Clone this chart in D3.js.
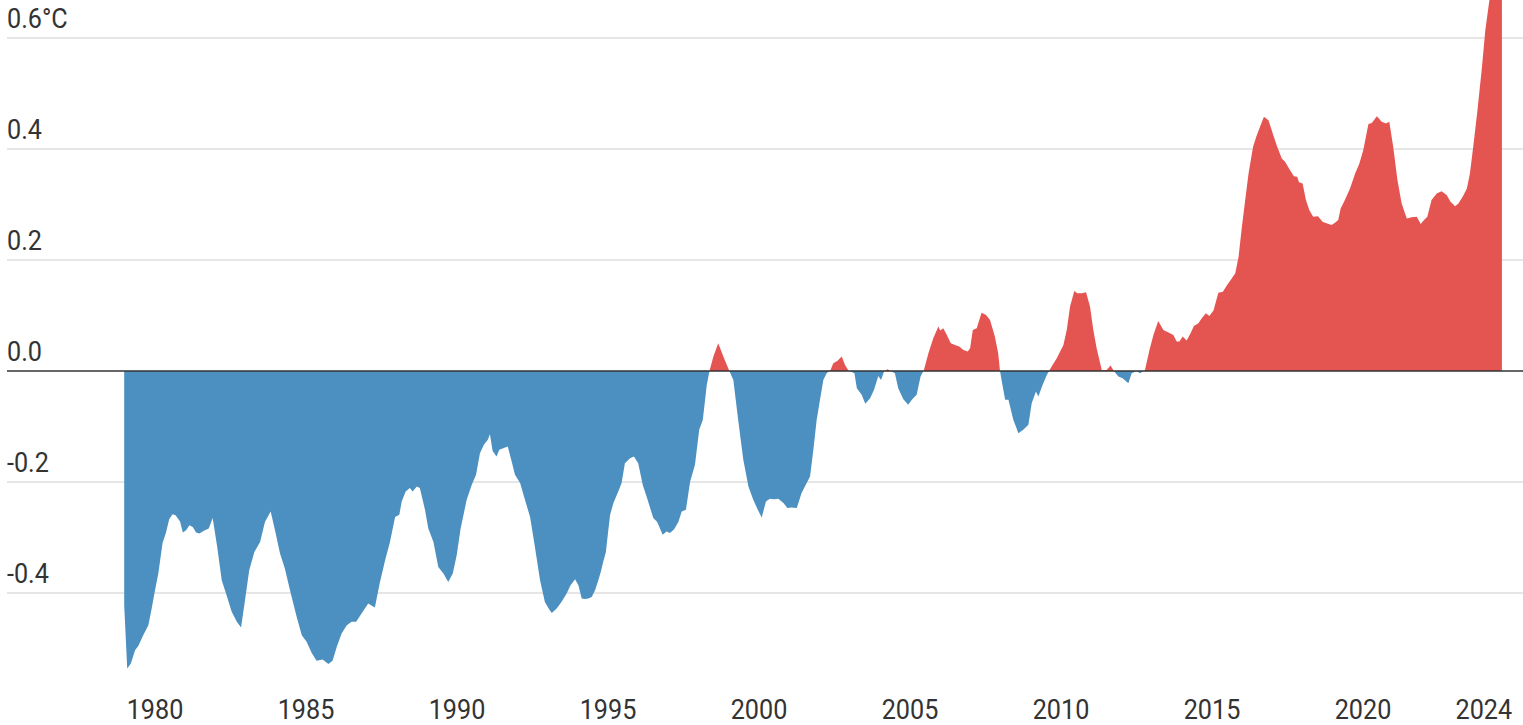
<!DOCTYPE html>
<html>
<head>
<meta charset="utf-8">
<script src="https://cdn.jsdelivr.net/npm/d3@7"></script>
<style>
  html, body { margin: 0; padding: 0; background: #fff; }
  svg { display: block; }
  text { font-family: Roboto, "Noto Sans", sans-serif; fill: #333; }
</style>
</head>
<body>
<svg id="chart" width="1523" height="725"></svg>
<script>
// Decimal-year positions of the readings (12-month mean anomaly, °C)
const years = [
1978.98,1979.08,1979.20,1979.34,1979.45,1979.61,1979.78,1979.89,
1980.00,1980.11,1980.25,1980.36,1980.47,1980.58,1980.68,1980.83,1980.92,
1981.03,1981.14,1981.25,1981.36,1981.47,1981.62,1981.78,1981.91,
1982.06,1982.21,1982.37,1982.54,1982.71,1982.85,1982.98,
1983.12,1983.29,1983.48,1983.64,1983.83,1983.97,
1984.14,1984.30,1984.47,1984.69,1984.86,
1985.02,1985.19,1985.35,1985.55,1985.74,1985.88,
1986.02,1986.18,1986.35,1986.51,1986.66,1986.84,
1987.06,1987.28,1987.45,1987.62,1987.78,1987.95,
1988.09,1988.17,1988.30,1988.44,1988.53,1988.67,1988.77,1988.94,
1989.05,1989.22,1989.38,1989.55,1989.71,1989.86,1989.99,
1990.12,1990.32,1990.49,1990.63,1990.76,1990.89,
1991.02,1991.09,1991.18,1991.31,1991.40,1991.53,1991.68,1991.81,1991.92,
1992.09,1992.25,1992.42,1992.58,1992.75,1992.91,
1993.06,1993.14,1993.30,1993.46,1993.63,1993.76,1993.91,
1994.02,1994.13,1994.24,1994.35,1994.46,1994.57,1994.68,1994.76,1994.84,1994.93,
1995.01,1995.07,1995.18,1995.34,1995.45,1995.56,1995.73,1995.86,
1996.00,1996.15,1996.30,1996.50,1996.63,1996.81,1996.94,
1997.05,1997.19,1997.33,1997.44,1997.58,1997.72,1997.88,
1998.02,1998.14,1998.27,1998.36,1998.49,1998.65,1998.82,1998.98,
1999.15,1999.31,1999.48,1999.65,1999.81,1999.96,
2000.09,2000.23,2000.36,2000.50,2000.64,2000.81,2000.94,
2001.08,2001.25,2001.41,2001.52,2001.69,2001.80,2001.91,
2002.02,2002.13,2002.24,2002.37,2002.46,2002.59,2002.74,2002.85,2002.96,
2003.16,2003.24,2003.40,2003.52,2003.68,2003.81,2003.95,
2004.04,2004.14,2004.25,2004.36,2004.50,2004.61,2004.78,2004.94,
2005.06,2005.22,2005.35,2005.46,2005.61,2005.77,2005.94,
2006.00,2006.10,2006.22,2006.35,2006.49,2006.63,2006.77,2006.91,2006.99,
2007.08,2007.21,2007.37,2007.52,2007.65,2007.81,2007.92,2007.98,
2008.09,2008.15,2008.26,2008.42,2008.59,2008.75,2008.92,
2009.03,2009.17,2009.25,2009.39,2009.53,2009.69,2009.86,
2010.08,2010.19,2010.30,2010.44,2010.54,2010.69,2010.83,2010.96,
2011.07,2011.18,2011.35,2011.51,2011.64,2011.75,2011.90,
2012.04,2012.23,2012.34,2012.50,2012.62,2012.78,2012.93,
2013.06,2013.22,2013.39,2013.61,2013.72,2013.83,2013.92,
2014.03,2014.16,2014.29,2014.40,2014.55,2014.66,2014.80,2014.91,
2015.05,2015.21,2015.36,2015.50,2015.63,2015.77,2015.88,2015.99,
2016.10,2016.21,2016.36,2016.46,2016.59,2016.72,2016.87,
2017.03,2017.16,2017.31,2017.42,2017.58,2017.71,2017.82,2017.88,
2018.00,2018.11,2018.22,2018.35,2018.51,2018.66,2018.79,2018.96,
2019.07,2019.18,2019.26,2019.40,2019.57,2019.74,2019.88,
2020.01,2020.18,2020.29,2020.46,2020.62,2020.76,2020.87,
2021.00,2021.14,2021.28,2021.45,2021.61,2021.78,2021.91,
2022.02,2022.13,2022.27,2022.44,2022.60,2022.77,2022.90,
2023.05,2023.16,2023.30,2023.44,2023.54,2023.65,2023.79,2023.94,
2024.05,2024.19,2024.35,2024.50,2024.60
];

const anomaly = [
-0.422,-0.536,-0.527,-0.503,-0.495,-0.476,-0.458,-0.428,
-0.395,-0.365,-0.310,-0.292,-0.267,-0.258,-0.260,-0.271,-0.291,
-0.287,-0.278,-0.281,-0.291,-0.293,-0.288,-0.284,-0.265,
-0.317,-0.377,-0.404,-0.434,-0.452,-0.462,-0.413,
-0.359,-0.326,-0.308,-0.272,-0.253,-0.286,
-0.329,-0.356,-0.395,-0.443,-0.476,
-0.488,-0.508,-0.522,-0.520,-0.528,-0.522,
-0.497,-0.473,-0.458,-0.452,-0.452,-0.437,
-0.419,-0.426,-0.380,-0.341,-0.308,-0.263,
-0.259,-0.235,-0.217,-0.211,-0.217,-0.208,-0.211,-0.250,
-0.284,-0.308,-0.353,-0.365,-0.380,-0.365,-0.332,
-0.284,-0.232,-0.205,-0.187,-0.148,-0.133,
-0.124,-0.114,-0.144,-0.154,-0.142,-0.139,-0.136,-0.163,-0.187,
-0.202,-0.232,-0.263,-0.317,-0.377,-0.416,
-0.430,-0.436,-0.428,-0.416,-0.401,-0.386,-0.375,
-0.386,-0.410,-0.411,-0.410,-0.407,-0.395,-0.377,-0.362,-0.344,-0.326,
-0.287,-0.259,-0.238,-0.217,-0.202,-0.166,-0.157,-0.154,
-0.166,-0.205,-0.230,-0.265,-0.272,-0.295,-0.289,
-0.292,-0.285,-0.272,-0.253,-0.250,-0.199,-0.169,
-0.106,-0.088,-0.025,0.000,0.026,0.050,0.026,0.005,
-0.016,-0.088,-0.160,-0.208,-0.232,-0.250,
-0.264,-0.235,-0.230,-0.231,-0.230,-0.238,-0.247,
-0.246,-0.247,-0.220,-0.208,-0.190,-0.142,-0.088,
-0.052,-0.016,-0.004,0.002,0.014,0.018,0.026,0.011,0.001,
-0.004,-0.031,-0.043,-0.059,-0.049,-0.034,-0.009,
-0.016,-0.001,0.003,0.000,-0.004,-0.031,-0.051,-0.061,
-0.052,-0.043,-0.010,0.002,0.032,0.059,0.080,
0.073,0.077,0.065,0.050,0.047,0.044,0.038,0.035,0.041,
0.074,0.077,0.105,0.101,0.092,0.062,0.032,0.000,
-0.034,-0.052,-0.052,-0.088,-0.112,-0.106,-0.097,
-0.058,-0.037,-0.046,-0.025,-0.007,0.008,0.023,
0.047,0.074,0.116,0.144,0.140,0.140,0.142,0.116,
0.074,0.041,0.002,0.002,0.010,0.000,-0.010,
-0.013,-0.022,-0.004,0.000,-0.004,0.002,0.038,
0.065,0.090,0.074,0.068,0.065,0.053,0.053,
0.062,0.055,0.068,0.081,0.086,0.095,0.104,0.099,
0.109,0.141,0.143,0.155,0.165,0.176,0.206,0.260,
0.308,0.356,0.404,0.421,0.440,0.458,0.452,
0.425,0.404,0.383,0.377,0.362,0.351,0.350,0.340,
0.338,0.308,0.290,0.278,0.279,0.269,0.266,0.263,
0.267,0.272,0.293,0.308,0.329,0.356,0.374,
0.398,0.445,0.447,0.459,0.449,0.446,0.449,
0.404,0.344,0.302,0.275,0.277,0.278,0.265,
0.272,0.278,0.308,0.320,0.324,0.317,0.305,
0.297,0.302,0.314,0.329,0.356,0.404,0.470,0.548,
0.614,0.670,0.700,0.720,0.730
];

const xTicks = [1980, 1985, 1990, 1995, 2000, 2005, 2010, 2015, 2020, 2024];
const yTicks = [-0.4, -0.2, 0.0, 0.2, 0.4, 0.6];
const yTickLabels = ["-0.4", "-0.2", "0.0", "0.2", "0.4", "0.6°C"];

const W = 1523, H = 725;
const svg = d3.select("#chart");

const x = d3.scaleLinear().domain([1980, 2024]).range([155, 1483.8]);
const y = d3.scaleLinear().domain([-0.4, 0.6]).range([593, 38]);

const data = years.map((t, i) => ({ t, v: anomaly[i] }));

// gridlines
svg.append("g").selectAll("line")
  .data(yTicks.filter(d => d !== 0))
  .join("line")
  .attr("x1", 7).attr("x2", W)
  .attr("y1", d => y(d)).attr("y2", d => y(d))
  .attr("stroke", "#e6e6e6").attr("stroke-width", 2);

// clip paths for positive / negative
const defs = svg.append("defs");
defs.append("clipPath").attr("id", "clipPos")
  .append("rect").attr("x", 0).attr("y", 0).attr("width", W).attr("height", y(0));
defs.append("clipPath").attr("id", "clipNeg")
  .append("rect").attr("x", 0).attr("y", y(0)).attr("width", W).attr("height", H - y(0));

const area = d3.area()
  .x(d => x(d.t))
  .y0(y(0))
  .y1(d => y(d.v));

svg.append("path").datum(data)
  .attr("d", area).attr("fill", "#4b90c1")
  .attr("clip-path", "url(#clipNeg)");
svg.append("path").datum(data)
  .attr("d", area).attr("fill", "#e45552")
  .attr("clip-path", "url(#clipPos)");

// zero line
svg.append("line")
  .attr("x1", 7).attr("x2", W)
  .attr("y1", y(0)).attr("y2", y(0))
  .attr("stroke", "#333").attr("stroke-width", 1.6);

// y labels
const yl = svg.append("g").selectAll("g")
  .data(yTicks)
  .join("g")
  .attr("transform", d => `translate(7,${y(d) - 10}) scale(0.9,1)`);
yl.append("text")
  .attr("font-size", 28)
  .text((d, i) => yTickLabels[i]);

// x labels
const xl = svg.append("g").selectAll("g")
  .data(xTicks)
  .join("g")
  .attr("transform", d => `translate(${x(d)},719) scale(0.9,1)`);
xl.append("text")
  .attr("font-size", 28)
  .attr("text-anchor", "middle")
  .text(d => d);
</script>
</body>
</html>
